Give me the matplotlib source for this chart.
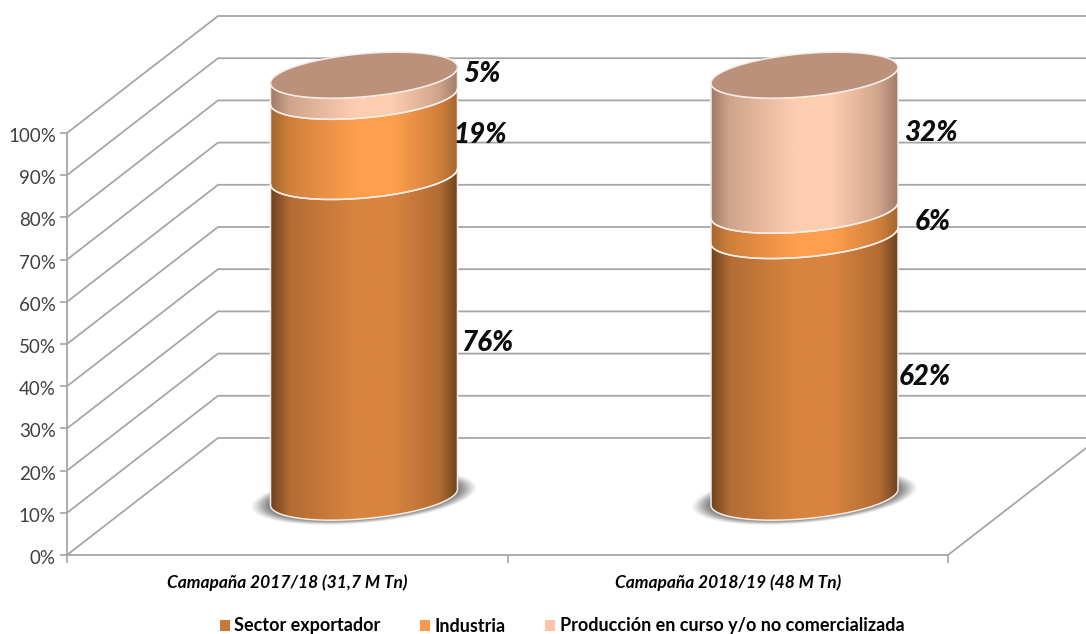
import numpy as np
import matplotlib
matplotlib.use('Agg')
import matplotlib.pyplot as plt
from matplotlib.colors import LinearSegmentedColormap
from matplotlib.patches import Patch, PathPatch, Polygon
from matplotlib.path import Path
from matplotlib.transforms import ScaledTranslation

# --- datos ---
categorias = ['Camapaña 2017/18 (31,7 M Tn)', 'Camapaña 2018/19 (48 M Tn)']
series = ['Sector exportador', 'Industria', 'Producción en curso y/o no comercializada']
exportador = [76, 62]
industria = [19, 6]
produccion = [5, 32]
ticks_y = [0, 10, 20, 30, 40, 50, 60, 70, 80, 90, 100]

# --- estilo ---
plt.rcParams['font.family'] = ['Lato', 'DejaVu Sans']
GRIS = '#a6a6a6'
col_base = ['#d8843f', '#ff9f4d', '#ffcdb0']
col_borde = ['#6f4420', '#a4672f', '#a07c69']
col_medio = ['#b36c33', '#d0803c', '#d0a48c']
col_tapa = '#bc917c'

W, H = 1086, 634
fig = plt.figure(figsize=(W / 100, H / 100), dpi=100)
ax = fig.add_axes([67 / W, (H - 555) / H, 881 / W, 422 / H])
ax.set_xlim(0, 2)
ax.set_ylim(0, 100)
ax.patch.set_alpha(0)

px_x = 2 / 881      # unidades x por pixel
px_y = 100 / 422    # unidades y por pixel

# profundidad del "3D"
dx = 151 * px_x
dy = 117 * px_y
x_max = (W - 67) * px_x

# --- paredes ---
for v in ticks_y:
    ax.plot([0, dx, x_max], [v, v + dy, v + dy], color=GRIS, lw=1.3, clip_on=False, zorder=1)
pend = dy / dx
ax.plot([2, x_max], [0, (x_max - 2) * pend], color=GRIS, lw=1.3, clip_on=False, zorder=1)

for s in ['top', 'right']:
    ax.spines[s].set_visible(False)
for s in ['left', 'bottom']:
    ax.spines[s].set_color(GRIS)
    ax.spines[s].set_linewidth(1.3)

ax.set_yticks(ticks_y)
ax.set_yticklabels([f'{v}%' for v in ticks_y], fontsize=13.5, color='#404040')
ax.tick_params(axis='y', length=5, color=GRIS, width=1.2, pad=3)
baja = ScaledTranslation(0, -2 / 72 * 0.72, fig.dpi_scale_trans)
for lab in ax.get_yticklabels():
    lab.set_transform(lab.get_transform() + baja)
ax.set_xticks([0, 1, 2])
ax.set_xticklabels([])
ax.tick_params(axis='x', which='major', length=6, color=GRIS, width=1.2)
ax.set_xticks([0.5, 1.5], minor=True)
ax.set_xticklabels(categorias, minor=True, fontsize=12.5, fontweight='bold', fontstyle='italic')
ax.tick_params(axis='x', which='minor', length=0, pad=14)

# --- cilindros ---
cx0 = (364 - 67) * px_x
a = 93.5 * px_x
sesgo = 8 * px_y
b = 21.6 * px_y
nivel0 = 13.7


def arco(cx, nivel, t0, t1, escala=1.0, n=80):
    t = np.linspace(t0, t1, n)
    x = cx + a * escala * np.cos(t)
    y = nivel + nivel0 + sesgo * escala * np.cos(t) + b * escala * np.sin(t)
    return np.column_stack([x, y])


def gradiente(i):
    return LinearSegmentedColormap.from_list('g', [(0, col_borde[i]), (0.1, col_medio[i]),
                                                   (0.45, col_base[i]), (0.65, col_base[i]),
                                                   (0.9, col_medio[i]), (1, col_borde[i])])


franja = np.linspace(0, 1, 256).reshape(1, -1)
for k in range(len(categorias)):
    cx = k + cx0

    # sombra
    for e, al in zip(np.linspace(1.2, 1.0, 8), [0.08, 0.12, 0.15, 0.18, 0.21, 0.24, 0.27, 0.3]):
        p = arco(cx, 0, 0, 2 * np.pi, escala=e)
        ax.add_patch(Polygon(p, closed=True, fc='#606060', ec='none', alpha=al, zorder=2, clip_on=False))

    acum = 0
    for i, val in enumerate([exportador[k], industria[k], produccion[k]]):
        abajo = arco(cx, acum, np.pi, 2 * np.pi)
        arriba = arco(cx, acum + val, 2 * np.pi, np.pi)
        verts = np.vstack([abajo, arriba, abajo[:1]])
        path = Path(verts, closed=False)
        im = ax.imshow(franja, cmap=gradiente(i), aspect='auto', zorder=3,
                       extent=[cx - a, cx + a, -10, 130], interpolation='bilinear')
        im.set_clip_box(fig.bbox)
        im.set_clip_path(PathPatch(path, transform=ax.transData))
        ax.add_patch(PathPatch(path, fc='none', ec='#f4ece6', lw=1.1, zorder=4, clip_on=False))
        acum += val

    # tapa
    ax.add_patch(Polygon(arco(cx, acum, 0, 2 * np.pi), closed=True, fc=col_tapa, ec='#f4ece6',
                         lw=1.1, zorder=5, clip_on=False))

ax.set_xlim(0, 2)
ax.set_ylim(0, 100)

# --- etiquetas de datos ---
etq_x = [[487, 480, 482], [925, 933, 931]]
etq_y = [[343, 135, 74], [377, 222, 133]]
for k in range(len(categorias)):
    for i, val in enumerate([exportador[k], industria[k], produccion[k]]):
        fig.text(etq_x[k][i] / W, 1 - etq_y[k][i] / H, f'{val}%', ha='center', va='center',
                 fontsize=20, fontweight=900, fontstyle='italic', color='#0d0d0d', zorder=10)

# --- leyenda ---
handles = [Patch(fc=c, ec='none') for c in ['#c8793a', '#fb9a4b', '#fcc4a6']]
fig.legend(handles, series, loc='center', bbox_to_anchor=(562 / W, 1 - 626 / H), ncol=3, frameon=False,
           prop={'size': 13, 'weight': 'bold'}, handlelength=0.55, handleheight=0.55, handletextpad=0.25,
           columnspacing=2.2)

fig.savefig('out.png', dpi=100)
